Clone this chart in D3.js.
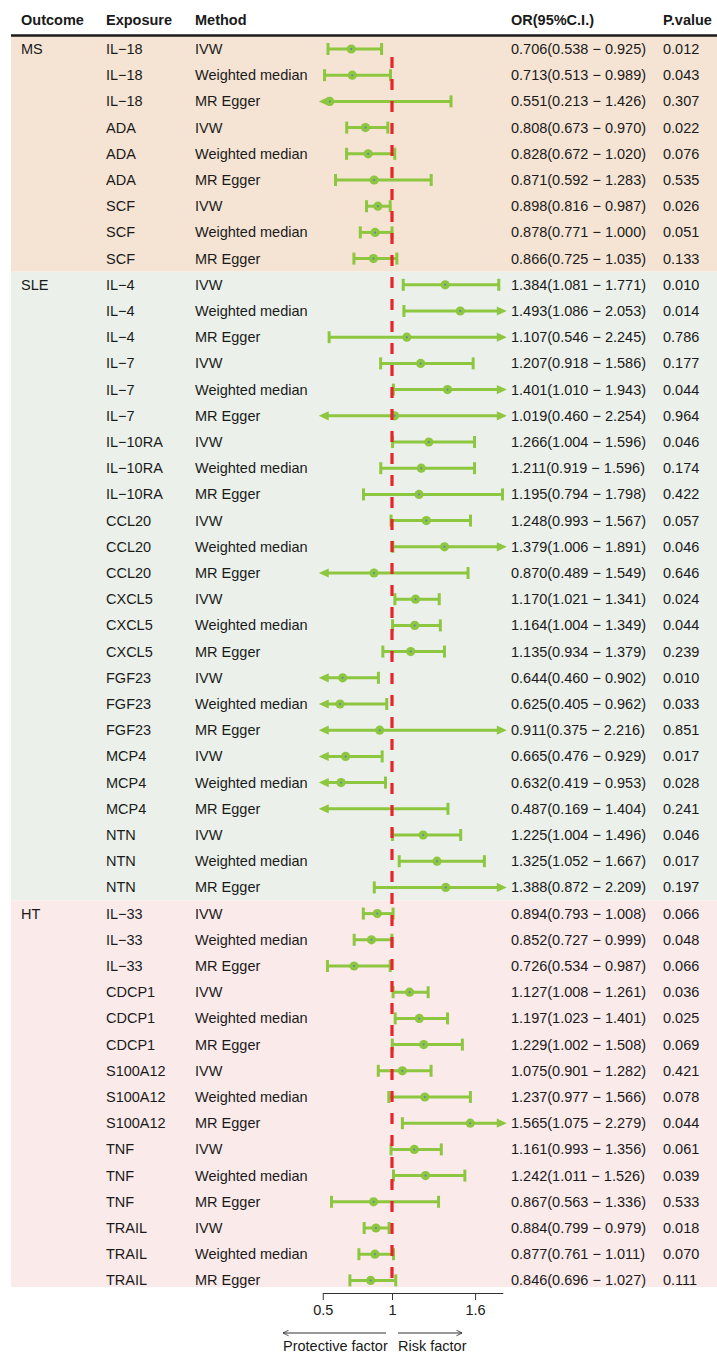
<!DOCTYPE html>
<html>
<head>
<meta charset="utf-8">
<script src="https://cdn.jsdelivr.net/npm/d3@7"></script>
<style>
  html, body { margin: 0; padding: 0; background: #ffffff; }
  svg { display: block; }
  text { font-family: "Liberation Sans", Arial, Helvetica, sans-serif; fill: #1a1a1a; }
</style>
</head>
<body>
<svg id="chart" width="717" height="1354"></svg>
<script>
// Outcome groups and how many rows each spans
const outcomes = ["MS", "SLE", "HT"];
const outcomeSizes = [9, 24, 15];
const outcomeFills = ["#F5E4D4", "#EBF1EA", "#FBEAEA"];

const exposures = [
  "IL−18", "IL−18", "IL−18", "ADA", "ADA", "ADA", "SCF", "SCF", "SCF",
  "IL−4", "IL−4", "IL−4", "IL−7", "IL−7", "IL−7", "IL−10RA", "IL−10RA", "IL−10RA",
  "CCL20", "CCL20", "CCL20", "CXCL5", "CXCL5", "CXCL5", "FGF23", "FGF23", "FGF23",
  "MCP4", "MCP4", "MCP4", "NTN", "NTN", "NTN",
  "IL−33", "IL−33", "IL−33", "CDCP1", "CDCP1", "CDCP1", "S100A12", "S100A12", "S100A12",
  "TNF", "TNF", "TNF", "TRAIL", "TRAIL", "TRAIL"
];

const methodCycle = ["IVW", "Weighted median", "MR Egger"];

const orValues = [
  0.706, 0.713, 0.551, 0.808, 0.828, 0.871, 0.898, 0.878, 0.866,
  1.384, 1.493, 1.107, 1.207, 1.401, 1.019, 1.266, 1.211, 1.195,
  1.248, 1.379, 0.870, 1.170, 1.164, 1.135, 0.644, 0.625, 0.911,
  0.665, 0.632, 0.487, 1.225, 1.325, 1.388,
  0.894, 0.852, 0.726, 1.127, 1.197, 1.229, 1.075, 1.237, 1.565,
  1.161, 1.242, 0.867, 0.884, 0.877, 0.846
];
const lowerCI = [
  0.538, 0.513, 0.213, 0.673, 0.672, 0.592, 0.816, 0.771, 0.725,
  1.081, 1.086, 0.546, 0.918, 1.010, 0.460, 1.004, 0.919, 0.794,
  0.993, 1.006, 0.489, 1.021, 1.004, 0.934, 0.460, 0.405, 0.375,
  0.476, 0.419, 0.169, 1.004, 1.052, 0.872,
  0.793, 0.727, 0.534, 1.008, 1.023, 1.002, 0.901, 0.977, 1.075,
  0.993, 1.011, 0.563, 0.799, 0.761, 0.696
];
const upperCI = [
  0.925, 0.989, 1.426, 0.970, 1.020, 1.283, 0.987, 1.000, 1.035,
  1.771, 2.053, 2.245, 1.586, 1.943, 2.254, 1.596, 1.596, 1.798,
  1.567, 1.891, 1.549, 1.341, 1.349, 1.379, 0.902, 0.962, 2.216,
  0.929, 0.953, 1.404, 1.496, 1.667, 2.209,
  1.008, 0.999, 0.987, 1.261, 1.401, 1.508, 1.282, 1.566, 2.279,
  1.356, 1.526, 1.336, 0.979, 1.011, 1.027
];
const pValues = [
  0.012, 0.043, 0.307, 0.022, 0.076, 0.535, 0.026, 0.051, 0.133,
  0.010, 0.014, 0.786, 0.177, 0.044, 0.964, 0.046, 0.174, 0.422,
  0.057, 0.046, 0.646, 0.024, 0.044, 0.239, 0.010, 0.033, 0.851,
  0.017, 0.028, 0.241, 0.046, 0.017, 0.197,
  0.066, 0.048, 0.066, 0.036, 0.025, 0.069, 0.421, 0.078, 0.044,
  0.061, 0.039, 0.533, 0.018, 0.070, 0.111
];

const headers = ["Outcome", "Exposure", "Method", "OR(95%C.I.)", "P.value"];
const xTicks = [0.5, 1, 1.6];
const xLimits = [0.5, 1.8];
const refValue = 1;
const leftArrowLabel = "Protective factor";
const rightArrowLabel = "Risk factor";

// Build one record per table row
const rows = exposures.map((e, i) => ({
  exposure: e,
  method: methodCycle[i % 3],
  or: orValues[i], lo: lowerCI[i], hi: upperCI[i], p: pValues[i]
}));
let start = 0;
const groups = outcomes.map((o, g) => {
  const grp = { name: o, start: start, end: start + outcomeSizes[g] - 1, fill: outcomeFills[g] };
  start += outcomeSizes[g];
  return grp;
});

// Layout
const svg = d3.select("#chart");
const fontSize = 14.5;
const colX = [21, 106, 195, 511, 663];
const tableLeft = 11, tableRight = 717;
const bodyTop = 36, bodyBottom = 1287;

const y = d3.scaleLinear().domain([0, rows.length - 1]).range([49, 1280.4]);
const rowStep = y(1) - y(0);
const x = d3.scaleLinear().domain(xLimits).range([322.75, 502.8]);

const green = "#8DC63F";
const red = "#E8242B";

// Background bands for each outcome
svg.append("g").selectAll("rect").data(groups).join("rect")
  .attr("x", tableLeft)
  .attr("width", tableRight - tableLeft)
  .attr("y", (d, i) => i === 0 ? bodyTop : y(d.start) - rowStep / 2)
  .attr("height", (d, i) => {
    const top = i === 0 ? bodyTop : y(d.start) - rowStep / 2;
    const bot = i === groups.length - 1 ? bodyBottom : y(d.end) + rowStep / 2;
    return bot - top;
  })
  .attr("fill", d => d.fill);

// Header
svg.append("g").selectAll("text").data(headers).join("text")
  .attr("x", (d, i) => colX[i])
  .attr("y", 20)
  .attr("dy", "0.35em")
  .attr("font-size", fontSize)
  .attr("font-weight", "bold")
  .text(d => d);

svg.append("line")
  .attr("x1", tableLeft).attr("x2", tableRight)
  .attr("y1", 35.5).attr("y2", 35.5)
  .attr("stroke", "#1a1a1a").attr("stroke-width", 2.4);

// Table text
const body = svg.append("g").attr("font-size", fontSize);
body.selectAll("text.outcome").data(groups).join("text")
  .attr("class", "outcome")
  .attr("x", colX[0]).attr("y", d => y(d.start)).attr("dy", "0.35em")
  .text(d => d.name);

const rowG = body.selectAll("g.row").data(rows).join("g")
  .attr("class", "row")
  .attr("transform", (d, i) => `translate(0,${y(i)})`);

rowG.append("text").attr("x", colX[1]).attr("dy", "0.35em").text(d => d.exposure);
rowG.append("text").attr("x", colX[2]).attr("dy", "0.35em").text(d => d.method);
rowG.append("text").attr("x", colX[3]).attr("dy", "0.35em")
  .text(d => `${d.or.toFixed(3)}(${d.lo.toFixed(3)} − ${d.hi.toFixed(3)})`);
rowG.append("text").attr("x", colX[4]).attr("dy", "0.35em").text(d => d.p.toFixed(3));

// Confidence intervals
const capHalf = 6, headLen = 10, headHalf = 4.6, headOver = 4;
const ci = svg.append("g");
rows.forEach((d, i) => {
  const g = ci.append("g").attr("transform", `translate(0,${y(i)})`);
  const leftOut = d.lo < xLimits[0];
  const rightOut = d.hi > xLimits[1];
  const x0 = x(Math.max(d.lo, xLimits[0]));
  const x1 = x(Math.min(d.hi, xLimits[1]));
  g.append("line")
    .attr("x1", leftOut ? x0 - headOver + headLen - 2 : x0)
    .attr("x2", rightOut ? x1 + headOver - headLen + 2 : x1)
    .attr("stroke", green).attr("stroke-width", 3);
  if (leftOut) {
    const tip = x0 - headOver;
    g.append("path")
      .attr("d", `M${tip},0L${tip + headLen},${-headHalf}L${tip + headLen},${headHalf}Z`)
      .attr("fill", green);
  } else {
    g.append("line").attr("x1", x0).attr("x2", x0)
      .attr("y1", -capHalf).attr("y2", capHalf)
      .attr("stroke", green).attr("stroke-width", 3);
  }
  if (rightOut) {
    const tip = x1 + headOver;
    g.append("path")
      .attr("d", `M${tip},0L${tip - headLen},${-headHalf}L${tip - headLen},${headHalf}Z`)
      .attr("fill", green);
  } else {
    g.append("line").attr("x1", x1).attr("x2", x1)
      .attr("y1", -capHalf).attr("y2", capHalf)
      .attr("stroke", green).attr("stroke-width", 3);
  }
  if (d.or >= xLimits[0] && d.or <= xLimits[1]) {
    g.append("circle").attr("cx", x(d.or)).attr("r", 4.6).attr("fill", green);
    g.append("circle").attr("cx", x(d.or)).attr("r", 1).attr("fill", "#5B7DBF");
  }
});

// Reference line at OR = 1
svg.append("line")
  .attr("x1", x(refValue)).attr("x2", x(refValue))
  .attr("y1", 57).attr("y2", bodyBottom)
  .attr("stroke", red).attr("stroke-width", 3.2)
  .attr("stroke-dasharray", "11,11");

// X axis
const axisY = 1293;
const axis = svg.append("g")
  .attr("transform", `translate(0,${axisY})`)
  .call(d3.axisBottom(x).tickValues(xTicks).tickSize(7).tickSizeOuter(0)
    .tickFormat(d3.format("")));
axis.select(".domain").attr("stroke", "#333").attr("stroke-width", 1);
axis.selectAll(".tick line").attr("stroke", "#333").attr("stroke-width", 1);
axis.selectAll(".tick text")
  .attr("font-size", fontSize)
  .attr("font-family", "Liberation Sans, Arial, sans-serif")
  .attr("fill", "#1a1a1a")
  .attr("y", 12);

// Direction arrows under the axis
const defs = svg.append("defs");
defs.append("marker")
  .attr("id", "openHead").attr("viewBox", "0 0 10 10")
  .attr("refX", 9).attr("refY", 5)
  .attr("markerWidth", 7).attr("markerHeight", 7)
  .attr("markerUnits", "userSpaceOnUse")
  .attr("orient", "auto")
  .append("path").attr("d", "M1,1L9,5L1,9")
  .attr("fill", "none").attr("stroke", "#333").attr("stroke-width", 1.2);

const arrowY = 1333;
svg.append("line")
  .attr("x1", 386).attr("x2", 283).attr("y1", arrowY).attr("y2", arrowY)
  .attr("stroke", "#333").attr("stroke-width", 1)
  .attr("marker-end", "url(#openHead)");
svg.append("line")
  .attr("x1", 398).attr("x2", 462).attr("y1", arrowY).attr("y2", arrowY)
  .attr("stroke", "#333").attr("stroke-width", 1)
  .attr("marker-end", "url(#openHead)");

svg.append("text").attr("x", 283).attr("y", 1345.5).attr("dy", "0.35em")
  .attr("font-size", fontSize).text(leftArrowLabel);
svg.append("text").attr("x", 398).attr("y", 1345.5).attr("dy", "0.35em")
  .attr("font-size", fontSize).text(rightArrowLabel);
</script>
</body>
</html>
